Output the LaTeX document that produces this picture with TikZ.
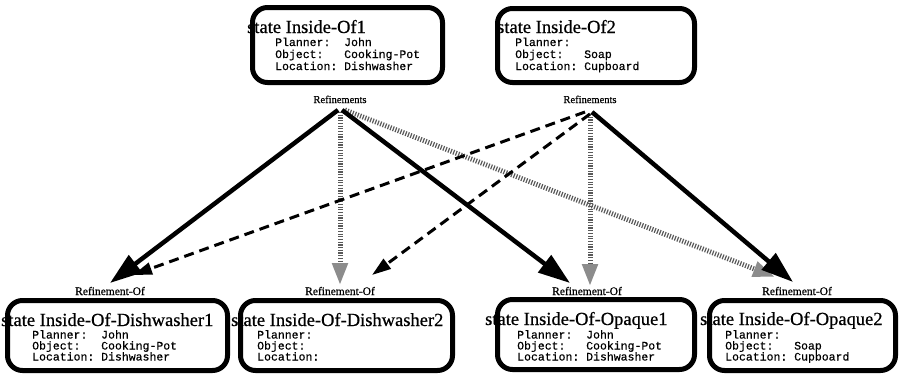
\documentclass[tikz,border=0pt]{standalone}
\usepackage{fontspec}
\setmainfont[FakeBold=0.6]{Liberation Serif}
\newfontfamily\monof[FakeBold=0.5]{Liberation Mono}
\usetikzlibrary{arrows.meta}
\tikzset{
  x=1pt, y=-1pt,
  statebox/.style={draw=black, line width=5pt, rounded corners=15pt, inner sep=0pt, fill=none},
  ttl/.style={anchor=base west, inner sep=0pt, font=\fontsize{18.5}{18.5}\selectfont},
  row/.style={anchor=base west, inner sep=0pt, font=\fontsize{11.5}{11.5}\monof},
  lbl/.style={anchor=base, inner sep=0pt, font=\fontsize{10.5}{10.5}\selectfont},
  lblof/.style={anchor=base, inner sep=0pt, font=\fontsize{11.5}{11.5}\selectfont},
  solidarr/.style={line width=4.5pt, -{Triangle[length=32pt, width=21pt]}},
  dasharr/.style={line width=3pt, dash pattern=on 10pt off 6pt, -{Triangle[length=19pt, width=12pt]}},
  hatcharr/.style={line width=5pt, draw=black!65, dash pattern=on 1.2pt off 1.5pt, -{Triangle[length=22pt, width=15pt, color=black!45]}},
}
\begin{document}
\begin{tikzpicture}
\useasboundingbox (0,0) rectangle (900,383);
% boxes
\node[statebox, minimum width=190pt, minimum height=75pt] (T1) at (347.5,45) {};
\node[statebox, minimum width=197pt, minimum height=74pt] (T2) at (596,45.5) {};
\node[statebox, minimum width=220pt, minimum height=70pt] (D1) at (117.5,335.5) {};
\node[statebox, minimum width=212pt, minimum height=70pt] (D2) at (346.5,335.5) {};
\node[statebox, minimum width=197pt, minimum height=70pt] (O1) at (596,334.5) {};
\node[statebox, minimum width=186pt, minimum height=70pt] (O2) at (802.5,335.5) {};
% top 1
\node[ttl] (T1t) at (247,33) {state Inside-Of1};
\node[row] (T1a) at (275,46) {Planner:~~John};
\node[row] (T1b) at (275,58) {Object:~~~Cooking-Pot};
\node[row] (T1c) at (275,70) {Location:~Dishwasher};
% top 2
\node[ttl] (T2t) at (497,33) {state Inside-Of2};
\node[row] (T2a) at (515,46) {Planner:};
\node[row] (T2b) at (515,58) {Object:~~~Soap};
\node[row] (T2c) at (515,70) {Location:~Cupboard};
% D1
\node[ttl] (D1t) at (1,326) {state Inside-Of-Dishwasher1};
\node[row] (D1a) at (32,338.5) {Planner:~~John};
\node[row] (D1b) at (32,349.5) {Object:~~~Cooking-Pot};
\node[row] (D1c) at (32,360.5) {Location:~Dishwasher};
% D2
\node[ttl] (D2t) at (231,326) {state Inside-Of-Dishwasher2};
\node[row] (D2a) at (257,338.5) {Planner:};
\node[row] (D2b) at (257,349.5) {Object:};
\node[row] (D2c) at (257,360.5) {Location:};
% O1
\node[ttl] (O1t) at (485,325) {state Inside-Of-Opaque1};
\node[row] (O1a) at (517,338.5) {Planner:~~John};
\node[row] (O1b) at (517,349.5) {Object:~~~Cooking-Pot};
\node[row] (O1c) at (517,360.5) {Location:~Dishwasher};
% O2
\node[ttl] (O2t) at (700,325) {state Inside-Of-Opaque2};
\node[row] (O2a) at (725,338.5) {Planner:};
\node[row] (O2b) at (725,349.5) {Object:~~~Soap};
\node[row] (O2c) at (725,360.5) {Location:~Cupboard};
% labels
\node[lbl] (R1) at (340,103) {Refinements};
\node[lbl] (R2) at (590,103) {Refinements};
\node[lblof] (F1) at (110,295) {Refinement-Of};
\node[lblof] (F2) at (340,295) {Refinement-Of};
\node[lblof] (F3) at (587,295) {Refinement-Of};
\node[lblof] (F4) at (797,295) {Refinement-Of};
% connector points
\coordinate (r1a) at (338,110);
\coordinate (r1b) at (340,112);
\coordinate (r1c) at (342,110);
\coordinate (r1d) at (345,110);
\coordinate (r2a) at (585,112);
\coordinate (r2b) at (590,114);
\coordinate (r2c) at (590,114);
\coordinate (r2d) at (592,112);
\coordinate (e1) at (110,283);
\coordinate (e2) at (340,285);
\coordinate (e3) at (570,283);
\coordinate (e4) at (775,277);
\coordinate (e5) at (133,275);
\coordinate (e6) at (372,275);
\coordinate (e7) at (590,286);
\coordinate (e8) at (793,282);
% hatched
\draw[hatcharr] (r1b) -- (e2);
\draw[hatcharr] (r1d) -- (e4);
\draw[hatcharr] (r2c) -- (e7);
% dashed
\draw[dasharr] (r2a) -- (e5);
\draw[dasharr] (r2b) -- (e6);
% solid
\draw[solidarr] (r1a) -- (e1);
\draw[solidarr] (r1c) -- (e3);
\draw[solidarr] (r2d) -- (e8);
\end{tikzpicture}
\end{document}
